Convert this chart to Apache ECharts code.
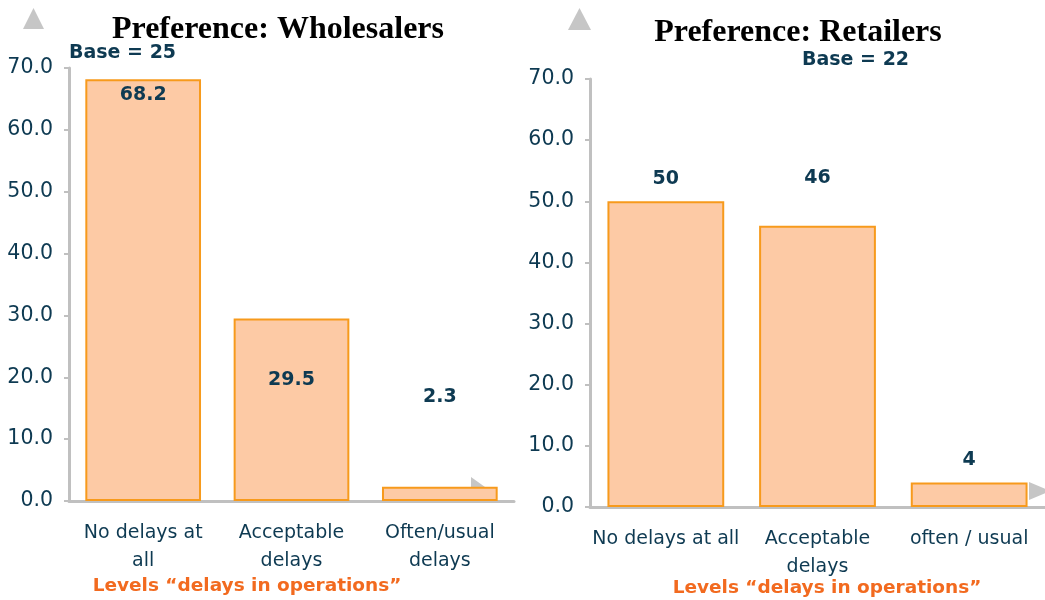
<!DOCTYPE html>
<html>
<head>
<meta charset="utf-8">
<script src="https://cdn.jsdelivr.net/npm/echarts@6/dist/echarts.min.js"></script>
<style>
  html, body { margin: 0; padding: 0; background: #ffffff; }
  #chart { width: 1045px; height: 600px; }
</style>
</head>
<body>
<div id="chart"></div>
<script>
// Delay-tolerance preference, share of respondents (%)
const wholesaleCategories = ['No delays at\nall', 'Acceptable\ndelays', 'Often/usual\ndelays'];
const wholesaleValues = [68.2, 29.5, 2.3];
const retailCategories = ['No delays at all', 'Acceptable\ndelays', 'often / usual'];
const retailValues = [50, 46, 4];
const yTicks = [0, 10, 20, 30, 40, 50, 60, 70];
const wholesaleTitle = 'Preference: Wholesalers';
const retailTitle = 'Preference: Retailers';
const wholesaleBase = 'Base = 25';
const retailBase = 'Base = 22';
const axisCaption = 'Levels \u201cdelays in operations\u201d';

// where each value label sits relative to its bar
const wholesaleLabelPlace = [['insideTop', 6], ['insideTop', 52], ['top', 80]];
const retailLabelPlace = [['top', 13], ['top', 38], ['top', 13]];

const NAVY = '#0e3a52';
const ORANGE_TEXT = '#f26a1f';
const GREY = '#c0c0c0';
const FONT = '"DejaVu Sans", Verdana, sans-serif';
const SERIF = '"Liberation Serif", "Times New Roman", serif';

function barData(values, places) {
  return values.map((v, i) => ({
    value: v,
    label: { position: places[i][0], distance: places[i][1] }
  }));
}

function xAxisFor(idx, cats) {
  return {
    type: 'category', gridIndex: idx, data: cats,
    axisLine: { lineStyle: { color: GREY, width: 3 } },
    axisTick: { show: false },
    axisLabel: { color: NAVY, fontFamily: FONT, fontSize: 19, lineHeight: 28, margin: 18, interval: 0 }
  };
}

function yAxisFor(idx) {
  return {
    type: 'value', gridIndex: idx, min: yTicks[0], max: yTicks[yTicks.length - 1],
    interval: yTicks[1] - yTicks[0],
    axisLine: { show: true, lineStyle: { color: GREY, width: 3 } },
    axisTick: { show: true, length: 5, lineStyle: { color: GREY, width: 2 } },
    axisLabel: { color: NAVY, fontFamily: FONT, fontSize: 20.5, margin: 16,
      formatter: v => v.toFixed(1) },
    splitLine: { show: false }
  };
}

function barSeries(idx, data, width) {
  return {
    type: 'bar', xAxisIndex: idx, yAxisIndex: idx, data: data, barWidth: width,
    itemStyle: { color: '#fdcaa5', borderColor: '#f79a1c', borderWidth: 2 },
    label: { show: true, color: NAVY, fontFamily: FONT, fontWeight: 'bold', fontSize: 19,
      formatter: p => String(p.value) },
    z: 2
  };
}

const chart = echarts.init(document.getElementById('chart'));
chart.setOption({
  animation: false,
  backgroundColor: '#ffffff',
  title: [
    { text: wholesaleTitle, left: 273, top: 9, textAlign: 'center',
      textStyle: { fontFamily: SERIF, fontWeight: 'bold', fontSize: 32, color: '#000' } },
    { text: retailTitle, left: 793, top: 12, textAlign: 'center',
      textStyle: { fontFamily: SERIF, fontWeight: 'bold', fontSize: 32, color: '#000' } }
  ],
  grid: [
    { left: 69, top: 68, width: 445, height: 433 },
    { left: 590, top: 79, width: 465, height: 428 }
  ],
  xAxis: [xAxisFor(0, wholesaleCategories), xAxisFor(1, retailCategories)],
  yAxis: [yAxisFor(0), yAxisFor(1)],
  series: [
    barSeries(0, barData(wholesaleValues, wholesaleLabelPlace), '78%'),
    barSeries(1, barData(retailValues, retailLabelPlace), '77%')
  ],
  graphic: [
    // header triangles
    { type: 'polygon', shape: { points: [[33.5, 8], [23, 29], [44, 29]] }, style: { fill: '#c6c6c6' } },
    { type: 'polygon', shape: { points: [[579.5, 8], [568, 30], [591, 30]] }, style: { fill: '#c6c6c6' } },
    // axis-end pointers
    { type: 'polygon', z: 1, shape: { points: [[471, 477], [471, 500], [492, 492]] }, style: { fill: '#c6c6c6' } },
    { type: 'polygon', z: 10, shape: { points: [[1029, 482], [1029, 500], [1050, 491]] }, style: { fill: '#c6c6c6' } },
    // sample-size notes
    { type: 'text', left: 69, top: 44, style: { text: wholesaleBase, fill: NAVY, font: 'bold 19px ' + FONT } },
    { type: 'text', left: 802, top: 51, style: { text: retailBase, fill: NAVY, font: 'bold 19px ' + FONT } },
    // axis captions
    { type: 'text', x: 247, y: 586, style: { text: axisCaption, fill: ORANGE_TEXT, font: 'bold 18.5px ' + FONT, align: 'center', verticalAlign: 'middle' } },
    { type: 'text', x: 827, y: 588, style: { text: axisCaption, fill: ORANGE_TEXT, font: 'bold 18.5px ' + FONT, align: 'center', verticalAlign: 'middle' } }
  ]
});
</script>
</body>
</html>
